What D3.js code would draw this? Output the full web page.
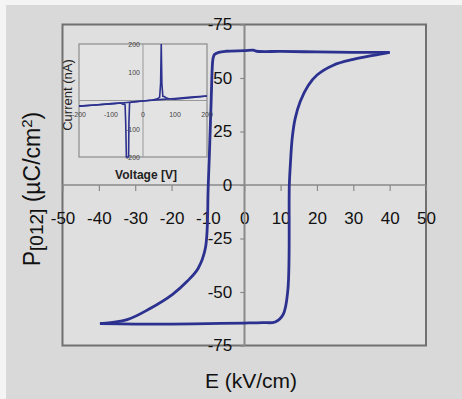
<!DOCTYPE html>
<html>
<head>
<meta charset="utf-8">
<script src="https://cdn.jsdelivr.net/npm/d3@7"></script>
<style>
  body { margin: 0; background: #f4f4f4; }
  svg { display: block; font-family: "Liberation Sans", Arial, sans-serif; }
</style>
</head>
<body>
<svg id="chart" width="462" height="399"></svg>
<script>
// Main hysteresis loop, E in kV/cm, P in uC/cm2
const descE = [40, 30, 20, 10, 3.5, 2.5, 0, -5, -7, -8.2, -8.6, -8.8, -9.1, -9.9, -10.7, -12.7, -15.7, -19.8, -25.9, -32.2, -39.7];
const descP = [62, 62, 62.2, 62.4, 62.5, 63, 62.8, 62.5, 62, 61, 59, 55, 39.4, 0, -29.6, -39, -45, -51.2, -57.7, -62.9, -64.8];
const ascE = [-39.7, -30, -20, -10, 0, 5, 8.5, 10.7, 12, 12.4, 12.7, 13.2, 14, 15.4, 17.6, 20.1, 24.5, 30, 35.5, 40];
const ascP = [-64.8, -65, -65, -64.8, -64.5, -64.3, -64, -60.5, -49, 0, 10, 22, 31, 39, 46.5, 51.5, 56, 58.7, 60.6, 62];

const xTicks = [-50, -40, -30, -20, -10, 0, 10, 20, 30, 40, 50];
const yTicks = [-75, -50, -25, 0, 25, 50, 75];
const yTickLabels = ['-75', '-50', '-25', '0', '25', '50', '-75'];

// Inset: current vs voltage
const fwdV = [-200, -150, -100, -50, 0, 30, 45, 52, 55, 57, 59, 62, 66, 72, 80, 100, 150, 200];
const fwdI = [-20, -16, -12, -7, -2, 2, 6, 12, 60, 200, 60, 15, 14, 10, 6, 5, 10, 16];
const revV = [200, 150, 100, 50, 0, -30, -40, -42, -44, -45, -52, -54, -56, -58, -62, -70, -100, -150, -200];
const revI = [16, 12, 7, 3, -2, -5, -7, -10, -80, -200, -200, -80, -15, -12, -14, -9, -11, -16, -20];
const insetTicks = [-200, -100, 0, 100, 200];

const lineColor = '#2c318f';
const svg = d3.select('#chart');

svg.append('rect')
  .attr('x', 6).attr('y', 5)
  .attr('width', 456).attr('height', 394)
  .attr('fill', '#d9d9d9');

const x = d3.scaleLinear().domain([-50, 50]).range([62.5, 426]);
const y = d3.scaleLinear().domain([-75, 75]).range([345.5, 24.5]);

// plot box
svg.append('rect')
  .attr('x', x(-50)).attr('y', y(75))
  .attr('width', x(50) - x(-50)).attr('height', y(-75) - y(75))
  .attr('fill', '#dfdfdf')
  .attr('stroke', '#707070')
  .attr('stroke-width', 2);

// zero lines
svg.append('line')
  .attr('x1', x(0)).attr('x2', x(0))
  .attr('y1', y(75)).attr('y2', y(-75))
  .attr('stroke', '#8a8a8a').attr('stroke-width', 1.5);

const xAxis = svg.append('g')
  .attr('transform', `translate(0,${y(0)})`)
  .call(d3.axisBottom(x).tickValues(xTicks).tickSizeInner(6).tickSizeOuter(0).tickPadding(21)
    .tickFormat(d => String(d)));
const yAxis = svg.append('g')
  .attr('transform', `translate(${x(0)},0)`)
  .call(d3.axisLeft(y).tickValues(yTicks).tickSizeInner(4).tickSizeOuter(0).tickPadding(8)
    .tickFormat((d, i) => yTickLabels[i]));

[xAxis, yAxis].forEach(g => {
  g.select('.domain').attr('stroke', '#8a8a8a').attr('stroke-width', 1.5);
  g.selectAll('.tick line').attr('stroke', '#8a8a8a').attr('stroke-width', 1.2);
  g.selectAll('.tick text')
    .attr('font-size', 17)
    .attr('font-family', '"Liberation Sans", Arial, sans-serif')
    .attr('fill', '#111');
});
xAxis.select('.domain').attr('d', `M${x(-50)},0H${x(50)}`);

// loop
const loopLine = d3.line()
  .curve(d3.curveCatmullRom.alpha(0.5))
  .x(d => x(d[0]))
  .y(d => y(d[1]));

svg.append('path')
  .datum(descE.map((e, i) => [e, descP[i]]))
  .attr('d', loopLine)
  .attr('fill', 'none')
  .attr('stroke', lineColor)
  .attr('stroke-width', 2.8)
  .attr('stroke-linejoin', 'round');
svg.append('path')
  .datum(ascE.map((e, i) => [e, ascP[i]]))
  .attr('d', loopLine)
  .attr('fill', 'none')
  .attr('stroke', lineColor)
  .attr('stroke-width', 2.8)
  .attr('stroke-linejoin', 'round');

// axis titles
svg.append('text')
  .attr('x', 251).attr('y', 388)
  .attr('text-anchor', 'middle')
  .attr('font-size', 21)
  .attr('fill', '#111')
  .text('E (kV/cm)');

const yTitle = svg.append('text')
  .attr('transform', 'translate(40,189) rotate(-90)')
  .attr('text-anchor', 'middle')
  .attr('font-size', 23)
  .attr('fill', '#111');
yTitle.append('tspan').text('P');
yTitle.append('tspan').attr('font-size', 19).attr('dy', 3).text('[012]');
yTitle.append('tspan').attr('dy', -3).text(' (\u00b5C/cm');
yTitle.append('tspan').attr('font-size', 15).attr('dy', -8).text('2');
yTitle.append('tspan').attr('dy', 8).text(')');

// inset
const ix = d3.scaleLinear().domain([-200, 200]).range([79, 207]);
const iy = d3.scaleLinear().domain([-200, 200]).range([157, 44]);
const inset = svg.append('g');

inset.append('rect')
  .attr('x', ix(-200)).attr('y', iy(200))
  .attr('width', ix(200) - ix(-200)).attr('height', iy(-200) - iy(200))
  .attr('fill', '#e3e3e3')
  .attr('stroke', '#8c8c8c')
  .attr('stroke-width', 1.2);
inset.append('line')
  .attr('x1', ix(0)).attr('x2', ix(0)).attr('y1', iy(200)).attr('y2', iy(-200))
  .attr('stroke', '#999').attr('stroke-width', 1);
inset.append('line')
  .attr('x1', ix(-200)).attr('x2', ix(200)).attr('y1', iy(0)).attr('y2', iy(0))
  .attr('stroke', '#999').attr('stroke-width', 1);

inset.selectAll('.ixlab')
  .data(insetTicks)
  .enter().append('text')
  .attr('class', 'ixlab')
  .attr('x', d => ix(d)).attr('y', iy(-60))
  .attr('text-anchor', 'middle')
  .attr('font-size', 7)
  .attr('fill', '#444')
  .text(d => d);
inset.selectAll('.iylab')
  .data(insetTicks.filter(d => d !== 0))
  .enter().append('text')
  .attr('class', 'iylab')
  .attr('x', ix(0) - 3).attr('y', d => iy(d) + 3)
  .attr('text-anchor', 'end')
  .attr('font-size', 7)
  .attr('fill', '#444')
  .text(d => d);

const insetLine = d3.line()
  .x(d => ix(d[0]))
  .y(d => iy(d[1]));
inset.append('path')
  .datum(fwdV.map((v, i) => [v, fwdI[i]]))
  .attr('d', insetLine)
  .attr('fill', 'none').attr('stroke', lineColor).attr('stroke-width', 1.6);
inset.append('path')
  .datum(revV.map((v, i) => [v, revI[i]]))
  .attr('d', insetLine)
  .attr('fill', 'none').attr('stroke', lineColor).attr('stroke-width', 1.6);

inset.append('text')
  .attr('transform', 'translate(72,95) rotate(-90)')
  .attr('text-anchor', 'middle')
  .attr('font-size', 13)
  .attr('fill', '#222')
  .text('Current (nA)');
inset.append('text')
  .attr('x', 146).attr('y', 179)
  .attr('text-anchor', 'middle')
  .attr('font-size', 12)
  .attr('font-weight', 'bold')
  .attr('fill', '#222')
  .text('Voltage [V]');
</script>
</body>
</html>
